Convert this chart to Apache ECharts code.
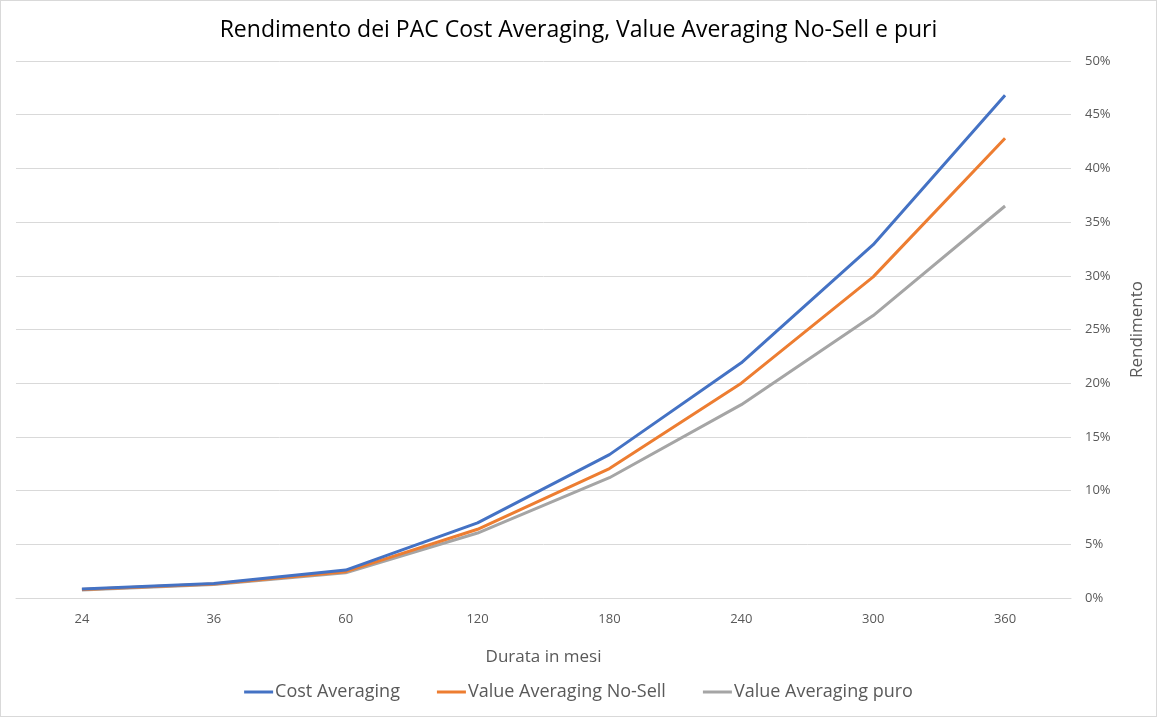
<!DOCTYPE html>
<html><head><meta charset="utf-8">
<script src="https://cdn.jsdelivr.net/npm/echarts@6/dist/echarts.min.js"></script>
<style>html,body{margin:0;padding:0;background:#fff}#c{width:1155px;height:715px;border:1px solid #d9d9d9}</style>
</head><body><div id="c"></div>
<script>
const categories = ['24','36','60','120','180','240','300','360'];
const costAveraging = [0.84, 1.35, 2.6, 7.0, 13.35, 21.9, 32.9, 46.8];
const valueNoSell = [0.8, 1.3, 2.45, 6.4, 12.05, 20.0, 29.9, 42.8];
const valuePuro = [0.75, 1.25, 2.35, 6.05, 11.2, 18.0, 26.3, 36.5];
const seriesNames = ['Cost Averaging', 'Value Averaging No-Sell', 'Value Averaging puro'];
const colors = ['#4472c4', '#ed7d31', '#a5a5a5'];
const FONT = '"Open Sans", "Noto Sans", sans-serif';
const chart = echarts.init(document.getElementById('c'));
chart.setOption({
  animation: false,
  title: { text: 'Rendimento dei PAC Cost Averaging, Value Averaging No-Sell e puri', left: 'center', top: 13,
    textStyle: { fontFamily: FONT, fontSize: 23, fontWeight: 'normal', color: '#000' } },
  legend: { bottom: 10, left: 'center', itemWidth: 29, itemHeight: 3, itemGap: 37, icon: 'rect',
    textStyle: { fontFamily: FONT, fontSize: 18, color: '#595959', padding: [0,0,0,-3] } },
  grid: { left: 15, right: 85, top: 60, bottom: 118 },
  xAxis: { type: 'category', data: categories, boundaryGap: true,
    name: 'Durata in mesi', nameLocation: 'middle', nameGap: 51,
    nameTextStyle: { fontFamily: FONT, fontSize: 17, color: '#595959' },
    axisLine: { lineStyle: { color: '#d9d9d9' } }, axisTick: { show: false },
    axisLabel: { fontFamily: FONT, fontSize: 13, color: '#595959', margin: 15 } },
  yAxis: { type: 'value', position: 'right', min: 0, max: 50, interval: 5,
    name: 'Rendimento', nameLocation: 'middle', nameGap: 58, nameRotate: 90,
    nameTextStyle: { fontFamily: FONT, fontSize: 17, color: '#595959' },
    splitLine: { lineStyle: { color: '#d9d9d9' } },
    axisLabel: { fontFamily: FONT, fontSize: 13, color: '#595959', margin: 14, formatter: v => v + '%' } },
  series: [costAveraging, valueNoSell, valuePuro].map((d, i) => ({
    name: seriesNames[i], type: 'line', data: d, symbol: 'none', color: colors[i],
    lineStyle: { width: 3, color: colors[i] }, z: 10 - i
  }))
});
</script></body></html>
